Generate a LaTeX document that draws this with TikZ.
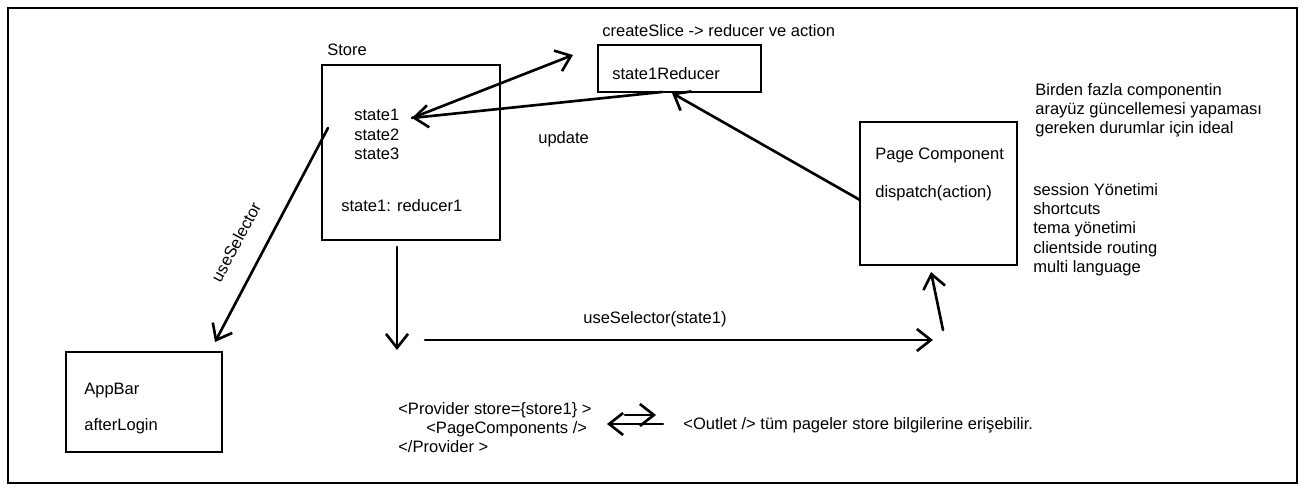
\documentclass[tikz,border=0pt]{standalone}
\usepackage{fontspec}
\setmainfont{Liberation Sans}
\usetikzlibrary{positioning,arrows.meta}

\begin{document}
\begin{tikzpicture}[
  x=0.02cm, y=-0.02cm,
  font=\fontsize{9.4}{11}\selectfont,
  box/.style={draw, line width=0.9pt, inner sep=0pt},
  arr/.style={-{Straight Barb[length=2.8mm, width=4.4mm]}, line width=1.5pt, line cap=round},
  txt/.style={anchor=north west, inner sep=0pt, align=left},
]
  \useasboundingbox (0,0) rectangle (1306,492);
  \draw[line width=0.6pt] (8,8) rectangle (1297,483);

  % boxes
  \node[box, minimum width=3.56cm, minimum height=3.5cm]  (store)   at (411,152.5) {};
  \node[box, minimum width=3.26cm, minimum height=0.94cm] (reducer) at (679.5,68.5) {};
  \node[box, minimum width=3.14cm, minimum height=2.86cm] (page)    at (938.5,193.5) {};
  \node[box, minimum width=3.12cm, minimum height=2cm]    (appbar)  at (144,402) {};

  % texts
  \node[txt] (storelbl) at (327,44)  {Store};
  \node[txt] (states)   at (354,109) {state1\\state2\\state3};
  \node[txt] (strd)     at (341,199) {state1: reducer1};
  \node[txt] (slice)    at (602,24)  {createSlice -> reducer ve action};
  \node[txt] (rdlbl)    at (612,67)  {state1Reducer};
  \node[txt] (upd)      at (538,131) {update};
  \node[txt] (pglbl)    at (875,148) {Page Component};
  \node[txt] (disp)     at (875,185) {dispatch(action)};
  \node[txt] (ideal)    at (1035,83) {Birden fazla componentin\\arayüz güncellemesi yapaması\\gereken durumlar için ideal};
  \node[txt] (uses)     at (1033,183) {session Yönetimi\\shortcuts\\tema yönetimi\\clientside routing\\multi language};
  \node[txt] (ablbl)    at (84,383)  {AppBar};
  \node[txt] (after)    at (84,418)  {afterLogin};
  \node[txt] (selst)    at (583,311) {useSelector(state1)};
  \node[txt] (prov)     at (398,402) {<Provider store=\{store1\} >\\\hspace*{0.56cm}<PageComponents />\\</Provider >};
  \node[txt] (outlet)   at (683,417) {<Outlet /> tüm pageler store bilgilerine erişebilir.};
  \node[rotate=62, inner sep=0pt] (sellbl) at (236,242) {useSelector};

  % connector ends
  \coordinate (st1)    at (412,118);
  \coordinate (rtip)   at (573,55);
  \coordinate (rout)   at (662,92);
  \coordinate (rin)    at (672,93);
  \coordinate (pout)   at (860,200);
  \coordinate (sleft)  at (328,128);
  \coordinate (abtip)  at (215,342);
  \coordinate (sdown)  at (397,247);
  \coordinate (sdtip)  at (397,350);
  \coordinate (hstart) at (425,340);
  \coordinate (htip)   at (933,340);
  \coordinate (upst)   at (943,330);
  \coordinate (uptip)  at (931,272);
  \coordinate (pvr)    at (625,415);
  \coordinate (pvrtip) at (656,415);
  \coordinate (olt)    at (663,424);
  \coordinate (olttip) at (607,424);

  % arrows
  \draw[arr] (st1) -- (rtip);
  \draw[arr] (rout) -- (st1);
  \draw[arr] (pout) -- (rin);
  \draw[arr] (sleft) -- (abtip);
  \draw[arr] (sdown) -- (sdtip);
  \draw[arr] (hstart) -- (htip);
  \draw[arr] (upst) -- (uptip);
  \draw[arr] (pvr) -- (pvrtip);
  \draw[arr] (olt) -- (olttip);
\end{tikzpicture}
\end{document}
